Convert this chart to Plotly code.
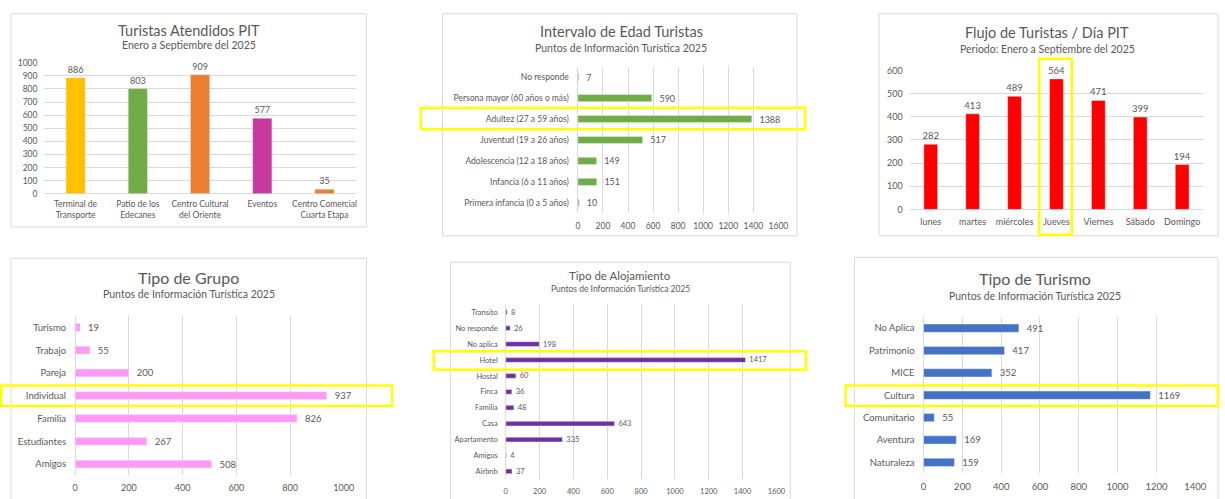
import plotly.graph_objects as go

W, H = 1225, 499
FONT = "Lato"
GREY = "#595959"
GRID = "#D9D9D9"

# ---------------- data ----------------
p1_cats = ["Terminal de<br>Transporte", "Patio de los<br>Edecanes", "Centro Cultural<br>del Oriente",
           "Eventos", "Centro Comercial<br>Cuarta Etapa"]
p1_vals = [886, 803, 909, 577, 35]

p2_cats = ["No responde", "Persona mayor (60 años o más)", "Adultez (27 a 59 años)",
           "Juventud (19 a 26 años)", "Adolescencia (12 a 18 años)", "Infancia (6 a 11 años)",
           "Primera infancia (0 a 5 años)"]
p2_vals = [7, 590, 1388, 517, 149, 151, 10]

p3_cats = ["lunes", "martes", "miércoles", "Jueves", "Viernes", "Sábado", "Domingo"]
p3_vals = [282, 413, 489, 564, 471, 399, 194]

p4_cats = ["Turismo", "Trabajo", "Pareja", "Individual", "Familia", "Estudiantes", "Amigos"]
p4_vals = [19, 55, 200, 937, 826, 267, 508]

p5_cats = ["Transito", "No responde", "No aplica", "Hotel", "Hostal", "Finca", "Familia",
           "Casa", "Apartamento", "Amigos", "Airbnb"]
p5_vals = [8, 26, 198, 1417, 60, 36, 48, 643, 335, 4, 37]

p6_cats = ["No Aplica", "Patrimonio", "MICE", "Cultura", "Comunitario", "Aventura", "Naturaleza"]
p6_vals = [491, 417, 352, 1169, 55, 169, 159]

titles = [
    ("Turistas Atendidos PIT", "Enero a Septiembre del 2025"),
    ("Intervalo de Edad Turistas", "Puntos de Información Turística 2025"),
    ("Flujo de Turistas / Día PIT", "Periodo: Enero a Septiembre del 2025"),
    ("Tipo de Grupo", "Puntos de Información Turística 2025"),
    ("Tipo de Alojamiento", "Puntos de Información Turística 2025"),
    ("Tipo de Turismo", "Puntos de Información Turística 2025"),
]

# ---------------- styles ----------------
p1_colors = ["#FFC000", "#70AD47", "#ED7D31", "#C7399F", "#ED7D31"]
NB = "\u00a0"


def px(x):
    return x / W


def py(y):
    return 1 - y / H


fig = go.Figure()

# panel 1 (vertical bars)
fig.add_trace(go.Bar(x=p1_cats, y=p1_vals, marker=dict(color=p1_colors), width=0.31,
                     text=p1_vals, textposition="outside", cliponaxis=False, constraintext="none",
                     textfont=dict(size=9, color=GREY), xaxis="x", yaxis="y"))
# panel 2
fig.add_trace(go.Bar(y=p2_cats, x=p2_vals, orientation="h", marker=dict(color="#70AD47"), width=0.34,
                     texttemplate=NB * 2 + "%{x}", textposition="outside", cliponaxis=False,
                     constraintext="none", textfont=dict(size=9, color=GREY), xaxis="x2", yaxis="y2"))
# panel 3
fig.add_trace(go.Bar(x=p3_cats, y=p3_vals, marker=dict(color="#FF0000"), width=0.33,
                     text=p3_vals, textposition="outside", cliponaxis=False, constraintext="none",
                     textfont=dict(size=9.5, color=GREY), xaxis="x3", yaxis="y3"))
# panel 4
fig.add_trace(go.Bar(y=p4_cats, x=p4_vals, orientation="h", marker=dict(color="#FF99F8"), width=0.34,
                     texttemplate=NB * 2 + "%{x}", textposition="outside", cliponaxis=False,
                     constraintext="none", textfont=dict(size=9.5, color=GREY), xaxis="x4", yaxis="y4"))
# panel 5
fig.add_trace(go.Bar(y=p5_cats, x=p5_vals, orientation="h", marker=dict(color="#7030A0"), width=0.3,
                     texttemplate=NB * 2 + "%{x}", textposition="outside", cliponaxis=False,
                     constraintext="none", textfont=dict(size=7.5, color=GREY), xaxis="x5", yaxis="y5"))
# panel 6
fig.add_trace(go.Bar(y=p6_cats, x=p6_vals, orientation="h", marker=dict(color="#4472C4"), width=0.37,
                     texttemplate=NB * 2 + "%{x}", textposition="outside", cliponaxis=False,
                     constraintext="none", textfont=dict(size=9.5, color=GREY), xaxis="x6", yaxis="y6"))

tickfont = lambda s: dict(family=FONT, size=s, color=GREY)


def val_axis(domain, rng, dtick, size, anchor):
    return dict(domain=domain, range=rng, dtick=dtick, showgrid=True, gridcolor=GRID, gridwidth=1,
                zeroline=True, zerolinecolor=GRID, zerolinewidth=1, showline=False,
                tickfont=tickfont(size), anchor=anchor, fixedrange=True, ticklabelstandoff=6)


def cat_axis(domain, n, size, anchor, reverse=False, standoff=6):
    rng = [n - 0.5, -0.5] if reverse else [-0.5, n - 0.5]
    return dict(domain=domain, range=rng, showgrid=False, zeroline=False, showline=False,
                tickfont=tickfont(size), anchor=anchor, type="category", ticks="",
                ticklabelstandoff=standoff, fixedrange=True)


layout = dict(
    width=W, height=H, margin=dict(l=0, r=0, t=0, b=0),
    paper_bgcolor="white", plot_bgcolor="rgba(0,0,0,0)",
    showlegend=False, font=dict(family=FONT, color=GREY),
    # panel 1
    xaxis=cat_axis([px(42), px(357)], len(p1_cats), 8.5, "y", standoff=4),
    yaxis=val_axis([py(192), py(58)], [0, 1000], 100, 8.5, "x"),
    # panel 2
    xaxis2=val_axis([px(582), px(785)], [0, 1600], 200, 8.5, "y2"),
    yaxis2=cat_axis([py(212), py(62)], len(p2_cats), 8.5, "x2", reverse=True, standoff=8),
    # panel 3
    xaxis3=cat_axis([px(918), px(1215)], len(p3_cats), 9, "y3", standoff=6),
    yaxis3=val_axis([py(208), py(66)], [0, 600], 100, 9, "x3"),
    # panel 4
    xaxis4=val_axis([px(73), px(345)], [0, 1000], 200, 9, "y4"),
    yaxis4=cat_axis([py(480), py(317)], len(p4_cats), 9.5, "x4", reverse=True, standoff=8),
    # panel 5
    xaxis5=val_axis([px(509), px(783)], [0, 1600], 200, 7.5, "y5"),
    yaxis5=cat_axis([py(484), py(305)], len(p5_cats), 7.5, "x5", reverse=True, standoff=7),
    # panel 6
    xaxis6=val_axis([px(932), px(1207)], [0, 1400], 200, 9.5, "y6"),
    yaxis6=cat_axis([py(478), py(318)], len(p6_cats), 9.5, "x6", reverse=True, standoff=8),
)
fig.update_layout(**layout)

# frames around each chart
frames = [(8, 8, 368, 226), (445, 8, 804, 235), (887, 8, 1230, 235),
          (8, 258, 368, 505), (453, 262, 797, 505), (862, 257, 1230, 505)]
for x0, y0, x1, y1 in frames:
    fig.add_shape(type="rect", xref="paper", yref="paper", x0=px(x0), x1=px(x1), y0=py(y0), y1=py(y1),
                  line=dict(color="#D9D9D9", width=1), fillcolor="rgba(0,0,0,0)", layer="below")

# yellow highlight boxes
boxes = [(423, 104, 812, 126), (1049, 54, 1082, 234), (-2, 388, 394, 409),
         (436, 353, 813, 372), (853, 388, 1230, 409)]
for x0, y0, x1, y1 in boxes:
    fig.add_shape(type="rect", xref="paper", yref="paper", x0=px(x0), x1=px(x1), y0=py(y0), y1=py(y1),
                  line=dict(color="#FFFF00", width=2.5), fillcolor="rgba(0,0,0,0)", layer="above")

# titles and subtitles
title_pos = [(188, 25, 40, 14.5, 10.5), (626, 26, 43, 14.5, 10.5), (1057, 27, 44, 14.5, 10.5),
             (188, 278, 295, 16, 10.5), (625, 276, 289, 11.5, 8.5), (1045, 279, 297, 16, 10.5)]
for (t, s), (cx, ty, sy, ts, ss) in zip(titles, title_pos):
    fig.add_annotation(text=t, xref="paper", yref="paper", x=px(cx), y=py(ty), showarrow=False,
                       xanchor="center", yanchor="middle", font=dict(family=FONT, size=ts, color=GREY))
    fig.add_annotation(text=s, xref="paper", yref="paper", x=px(cx), y=py(sy), showarrow=False,
                       xanchor="center", yanchor="middle", font=dict(family=FONT, size=ss, color=GREY))

fig.write_html("out.html", config={"displayModeBar": False},
               post_script="document.body.style.margin='0';document.body.style.overflow='hidden';"
                           "document.documentElement.style.overflow='hidden';")
